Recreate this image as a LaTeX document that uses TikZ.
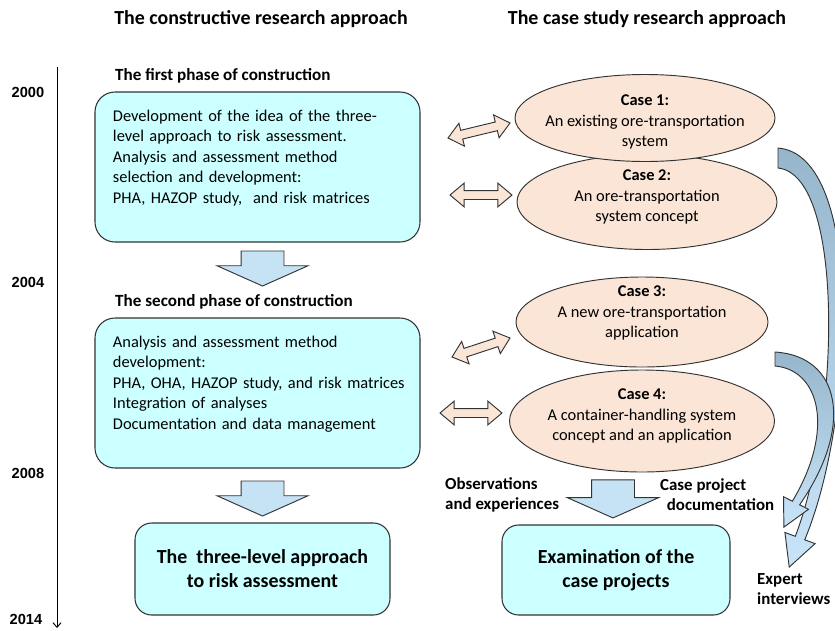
\documentclass[tikz,border=0pt]{standalone}
\usepackage{fontspec}
\setmainfont{Carlito}
\newfontfamily\yearfont{Liberation Sans}
\usepackage{xcolor}
\usepackage{tikz}
\usetikzlibrary{arrows.meta,calc,positioning,shapes.geometric,shapes.arrows}
\tikzset{>={Straight Barb[width=7pt,length=4pt]}}
\definecolor{boxcyan}{RGB}{204,255,255}
\definecolor{casepeach}{RGB}{251,229,214}
\definecolor{flowblue}{RGB}{198,226,245}
\definecolor{curvetop}{RGB}{150,182,204}
\definecolor{curvebottom}{RGB}{200,228,248}
\newcommand{\blockarrow}[3]{%
	\path let \p1=($(#3)-(#2)$), \n1={veclen(\x1,\y1)} in
	(#2) -- node[#1, sloped, allow upside down, minimum height=\n1] {} (#3);}

\begin{document}
\begin{tikzpicture}[x=0.03cm, y=-0.03cm]
	
	% Definitions.
	\tikzstyle{every node}=[
		inner sep=0pt,
		%font=\small,
	]
	\def\BodyFont{\fontsize{14}{17.5}\selectfont}
	\tikzstyle{headtext}=[font=\bfseries\fontsize{17}{20}\selectfont]
	\tikzstyle{phasetitle}=[anchor=west, font=\bfseries\fontsize{14.6}{17}\selectfont]
	\tikzstyle{yearlabel}=[font=\yearfont\bfseries\fontsize{12.5}{14}\selectfont]
	\tikzstyle{phasebox}=[draw=black!80, line width=0.9pt, fill=boxcyan, rounded corners=0.6cm,
		align=left, text width=8.67cm, inner xsep=0.54cm, minimum height=4.5cm, font=\BodyFont]
	\tikzstyle{resultbox}=[draw=black!80, line width=0.9pt, fill=boxcyan, rounded corners=0.5cm,
		align=center, font=\bfseries\fontsize{17}{20.5}\selectfont]
	\tikzstyle{caseoval}=[ellipse, draw=black!80, line width=0.8pt, fill=casepeach]
	\tikzstyle{casetext}=[align=center, font=\BodyFont]
	\tikzstyle{sidelabel}=[anchor=west, align=left, font=\bfseries\fontsize{14.4}{17}\selectfont]
	\tikzstyle{flowarrow}=[single arrow, draw=black!80, line width=0.8pt, fill=flowblue,
		inner xsep=0pt, inner ysep=0.63cm, single arrow head extend=0.72cm,
		single arrow tip angle=132, pos=0, anchor=tail]
	\tikzstyle{linkarrow}=[double arrow, draw=black!80, line width=0.8pt, fill=casepeach,
		inner xsep=0pt, inner ysep=0.12cm, double arrow head extend=0.22cm,
		double arrow tip angle=80, pos=0.5]
	\tikzstyle{curvearrow}=[draw=black!80, line width=0.8pt, top color=curvetop, bottom color=curvebottom]
	
	\useasboundingbox (0,0) rectangle (835,630);
	
	% ---------- Headers and Time Line ---------
	
	\node[headtext] (constrHead) at (261,19) {The constructive research approach};
	\node[headtext] (caseHead) at (647,19) {The case study research approach};
	
	\coordinate (timeTop) at (57,67);
	\coordinate (timeEnd) at (57,628);
	\draw[->, line width=0.8pt] (timeTop) -- (timeEnd);
	
	\foreach \yr/\ypos in {2000/92, 2004/282, 2008/473}
		\node[yearlabel] (year\yr) at (28,\ypos) {\yr};
	\node[yearlabel] (year2014) at (26,619) {2014};
	
	% ================== CONSTRUCTION ==================
	
	\node[phasetitle] (phaseOneTitle) at (115,76) {The first phase of construction};
	\node[phasebox] (phaseOne) at (257.5,167) {Development of the idea of the three-\\
		level approach to risk assessment.\\
		Analysis and assessment method\\
		selection and development:\\
		PHA, HAZOP study,~ and risk matrices\\ \mbox{}};
	
	\node[phasetitle] (phaseTwoTitle) at (115,302) {The second phase of construction};
	\node[phasebox] (phaseTwo) at (257.5,393) {Analysis and assessment method\\
		development:\\
		\mbox{PHA, OHA, HAZOP study, and risk matrices}\\
		Integration of analyses\\
		Documentation and data management\\ \mbox{}};
	
	\node[resultbox, minimum width=7.65cm, minimum height=2.76cm] (approachBox) at (262.5,569)
		{The~ three-level approach\\to risk assessment};
	
	% Flow arrows.
	\coordinate (flowOneTop) at ($(phaseOne.south)+(5,8)$);
	\coordinate (flowOneTip) at ($(flowOneTop)+(0,35)$);
	\blockarrow{flowarrow}{flowOneTop}{flowOneTip}
	
	\coordinate (flowTwoTop) at ($(phaseTwo.south)+(5,12)$);
	\coordinate (flowTwoTip) at ($(flowTwoTop)+(0,35)$);
	\blockarrow{flowarrow}{flowTwoTop}{flowTwoTip}
	
	% ================== CASE STUDIES ==================
	
	\node[caseoval, minimum width=7.8cm, minimum height=2.85cm] (caseTwo) at (647,202) {};
	\node[casetext] (caseTwoText) at (647,197) {\textbf{Case 2:}\\An ore-transportation\\system concept};
	\node[caseoval, minimum width=7.8cm, minimum height=2.61cm] (caseOne) at (645,118) {};
	\node[casetext] (caseOneText) at (645,122) {\textbf{Case 1:}\\An existing ore-transportation\\system};
	\node[caseoval, minimum width=7.56cm, minimum height=2.7cm] (caseThree) at (642,322) {};
	\node[casetext] (caseThreeText) at (642,313) {\textbf{Case 3:}\\A new ore-transportation\\application};
	\node[caseoval, minimum width=7.95cm, minimum height=3.06cm] (caseFour) at (642,421) {};
	\node[casetext] (caseFourText) at (642,416) {\textbf{Case 4:}\\A container-handling system\\concept and an application};
	
	\node[resultbox, minimum width=6.84cm, minimum height=2.7cm] (examBox) at (616,570)
		{Examination of the\\case projects};
	
	% Links between phases and cases.
	\coordinate (linkOneL) at (448,138);
	\coordinate (linkOneR) at (510,123);
	\blockarrow{linkarrow}{linkOneL}{linkOneR}
	\coordinate (linkTwoL) at (450,195);
	\coordinate (linkTwoR) at (512,195);
	\blockarrow{linkarrow}{linkTwoL}{linkTwoR}
	\coordinate (linkThreeL) at (452,357);
	\coordinate (linkThreeR) at (510,338);
	\blockarrow{linkarrow}{linkThreeL}{linkThreeR}
	\coordinate (linkFourL) at (440,413);
	\coordinate (linkFourR) at (502,413);
	\blockarrow{linkarrow}{linkFourL}{linkFourR}
	
	% Flow to the examination.
	\coordinate (flowThreeTip) at ($(examBox.north)+(-3,-7)$);
	\coordinate (flowThreeTop) at ($(flowThreeTip)+(0,-38)$);
	\blockarrow{flowarrow}{flowThreeTop}{flowThreeTip}
	
	\node[sidelabel] (obsLabel) at (445,495) {Observations\\and experiences};
	\node[sidelabel] (docLabel) at (660,495) {Case project\\\hspace{0.2cm}documentation};
	\node[sidelabel] (expertLabel) at (757,589) {Expert\\interviews};
	
	% Curved arrows to the expert interviews.
	\begin{scope}
		\clip (0,0) rectangle (835,630);
		\shadedraw[curvearrow] (778,148) .. controls (865,155) and (855,420) .. (804.7,539.8)
			-- (815.1,543.6) -- (789.2,567.1) -- (784.9,532.4) -- (795.3,536.3)
			.. controls (840,420) and (845,175) .. (778,168) -- cycle;
		\shadedraw[curvearrow] (775,352) .. controls (840,356) and (855,425) .. (799.6,504.8)
			-- (808.5,509.3) -- (783.9,527.1) -- (783.5,496.7) -- (792.4,501.2)
			.. controls (835,430) and (820,370) .. (775,366) -- cycle;
	\end{scope}
	
\end{tikzpicture}
\end{document}
